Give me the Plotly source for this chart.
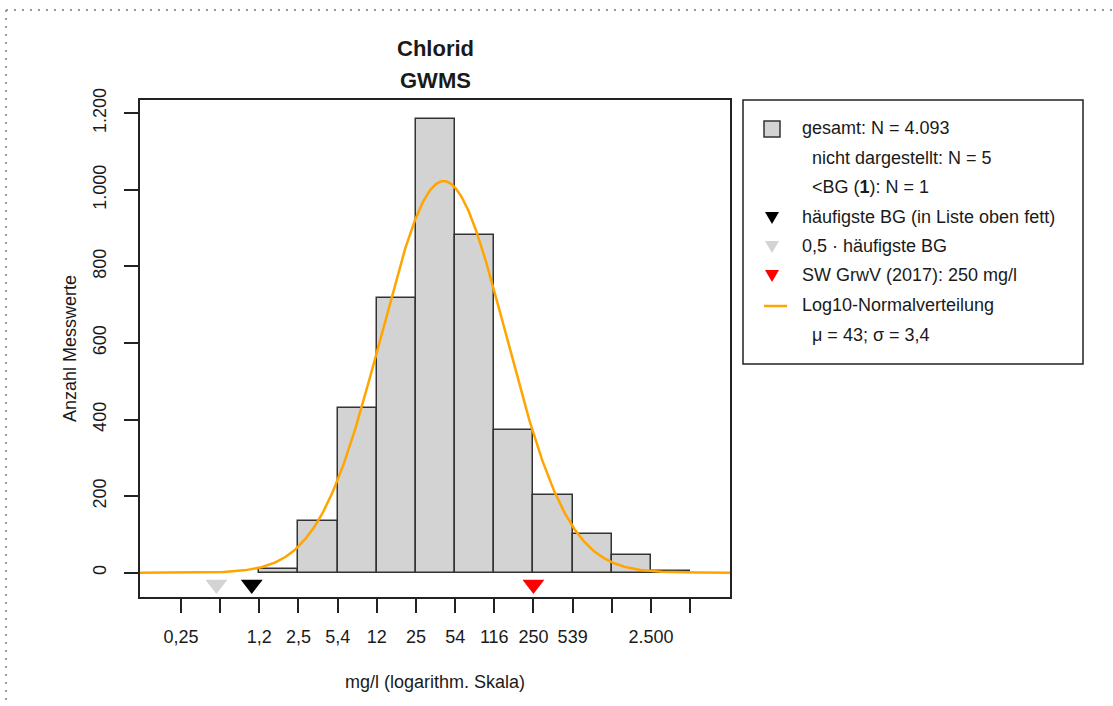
import numpy as np
import plotly.graph_objects as go

# ---------------- data ----------------
bin_edges = [1.16, 2.5, 5.39, 11.6, 25, 53.9, 116, 250, 539, 1160, 2500, 5386]
counts = [9, 135, 429, 717, 1184, 882, 373, 203, 101, 47, 4]

tick_values = [0.25, 0.539, 1.16, 2.5, 5.39, 11.6, 25, 53.9, 116, 250, 539, 1160, 2500, 5386]
tick_labels = ["0,25", "", "1,2", "2,5", "5,4", "12", "25", "54", "116", "250", "539", "", "2.500", ""]

y_tick_values = [0, 200, 400, 600, 800, 1000, 1200]
y_tick_labels = ["0", "200", "400", "600", "800", "1.000", "1.200"]

n_total = 4093
n_hidden = 5
n_below_bg = 1
geo_mean = 43      # mu
geo_sd = 3.4       # sigma

bg_values = [0.5, 1.0, 250]          # 0.5*BG, BG, SW GrwV
bg_colors = ["#D3D3D3", "#000000", "#FF0000"]
marker_y = -31

legend_lines = [
    "gesamt: N = 4.093",
    "  nicht dargestellt: N = 5",
    "  &lt;BG (<b>1</b>): N = 1",
    "häufigste BG (in Liste oben fett)",
    "0,5 · häufigste BG",
    "SW GrwV (2017): 250 mg/l",
    "Log10-Normalverteilung",
    "  μ = 43; σ = 3,4",
]

# ---------------- geometry helpers (pixels -> paper) ----------------
W, H = 1113, 706
def px(x):
    return x / W
def py(y):
    return 1 - y / H

FONT = "Liberation Sans, Arial, sans-serif"
TXT = "#1a1a1a"

# ---------------- histogram bars in log10 space ----------------
log_edges = np.log10(bin_edges)
bar_x = (log_edges[:-1] + log_edges[1:]) / 2
bar_w = log_edges[1:] - log_edges[:-1]

xr = [-0.951, 4.071]
yr = [-63.5, 1234.7]

fig = go.Figure()
fig.add_trace(go.Bar(
    x=bar_x, y=counts, width=bar_w,
    marker=dict(color="#D3D3D3", line=dict(color="#333333", width=1.5)),
    showlegend=False, hoverinfo="skip",
))

# ---------------- fitted log10-normal curve ----------------
mu_l = np.log10(geo_mean)
sd_l = np.log10(geo_sd)
n_shown = n_total - n_hidden
binw = 1.0 / 3.0
xs = np.linspace(xr[0], xr[1], 600)
ys = n_shown * binw / (sd_l * np.sqrt(2 * np.pi)) * np.exp(-0.5 * ((xs - mu_l) / sd_l) ** 2)
fig.add_trace(go.Scatter(x=xs, y=ys, mode="lines",
                         line=dict(color="#FFA500", width=2.5),
                         showlegend=False, hoverinfo="skip"))

# ---------------- BG / threshold markers ----------------
fig.add_trace(go.Scatter(
    x=np.log10(bg_values), y=[marker_y] * len(bg_values), mode="markers",
    marker=dict(symbol="triangle-down", size=19, color=bg_colors, line=dict(width=0)),
    showlegend=False, hoverinfo="skip", cliponaxis=False,
))

axis_common = dict(
    showline=True, mirror=True, linecolor="#222222", linewidth=1.5,
    ticks="outside", ticklen=14, tickwidth=1.5, tickcolor="#222222",
    showgrid=False, zeroline=False,
    tickfont=dict(family=FONT, size=18, color=TXT),
)

fig.update_layout(
    width=W, height=H,
    margin=dict(l=0, r=0, t=0, b=0, autoexpand=False),
    paper_bgcolor="white", plot_bgcolor="white",
    bargap=0,
    font=dict(family=FONT, color=TXT),
    xaxis=dict(domain=[px(140), px(730)], range=xr,
               tickmode="array", tickvals=np.log10(tick_values), ticktext=tick_labels,
               ticklabelstandoff=9, **axis_common),
    yaxis=dict(domain=[py(597), py(100)], range=yr,
               tickmode="array", tickvals=y_tick_values, ticktext=y_tick_labels,
               tickangle=-90, ticklabelstandoff=11, **axis_common),
)

annotations = []
annotations.append(dict(x=px(435), y=py(49), xref="paper", yref="paper", text="<b>Chlorid</b>",
                        showarrow=False, font=dict(size=22, family=FONT, color=TXT), xanchor="center", yanchor="middle"))
annotations.append(dict(x=px(435), y=py(80), xref="paper", yref="paper", text="<b>GWMS</b>",
                        showarrow=False, font=dict(size=22, family=FONT, color=TXT), xanchor="center", yanchor="middle"))
annotations.append(dict(x=px(435), y=py(682), xref="paper", yref="paper", text="mg/l (logarithm. Skala)",
                        showarrow=False, font=dict(size=18, family=FONT, color=TXT), xanchor="center", yanchor="middle"))
annotations.append(dict(x=px(70), y=py(349), xref="paper", yref="paper", text="Anzahl Messwerte",
                        showarrow=False, textangle=-90, font=dict(size=18, family=FONT, color=TXT),
                        xanchor="center", yanchor="middle"))

line_y = [128, 158, 187, 217, 246, 275, 305, 335]
for txt, yy in zip(legend_lines, line_y):
    indent = txt.startswith("  ")
    annotations.append(dict(x=px(810 if indent else 800), y=py(yy), xref="paper", yref="paper",
                            text=txt.strip(), showarrow=False, xanchor="left", yanchor="middle",
                            font=dict(size=18, family=FONT, color=TXT)))
fig.update_layout(annotations=annotations)

shapes = []
# dotted outer frame
shapes.append(dict(type="line", xref="paper", yref="paper", x0=px(6), x1=px(1113), y0=py(10), y1=py(10),
                   line=dict(color="#9a9a9a", width=2, dash="2px,6px")))
shapes.append(dict(type="line", xref="paper", yref="paper", x0=px(6), x1=px(6), y0=py(10), y1=py(706),
                   line=dict(color="#9a9a9a", width=2, dash="2px,6px")))
# legend box
shapes.append(dict(type="rect", xref="paper", yref="paper", x0=px(743), x1=px(1083), y0=py(100), y1=py(364),
                   line=dict(color="#222222", width=1.5), fillcolor="rgba(0,0,0,0)"))
# legend symbols
shapes.append(dict(type="rect", xref="paper", yref="paper", x0=px(764), x1=px(780), y0=py(121), y1=py(137),
                   line=dict(color="#333333", width=1.5), fillcolor="#D3D3D3"))
def tri(cx, cy, color):
    w, h = 7, 12
    path = "M {:.5f},{:.5f} L {:.5f},{:.5f} L {:.5f},{:.5f} Z".format(
        px(cx - w), py(cy - h / 2), px(cx + w), py(cy - h / 2), px(cx), py(cy + h / 2))
    return dict(type="path", xref="paper", yref="paper", path=path, fillcolor=color, line=dict(width=0))
shapes.append(tri(772, 218, "#000000"))
shapes.append(tri(772, 247, "#D3D3D3"))
shapes.append(tri(772, 276, "#FF0000"))
shapes.append(dict(type="line", xref="paper", yref="paper", x0=px(764), x1=px(787), y0=py(306), y1=py(306),
                   line=dict(color="#FFA500", width=2.5)))
fig.update_layout(shapes=shapes)

fig.write_html("out.html")
